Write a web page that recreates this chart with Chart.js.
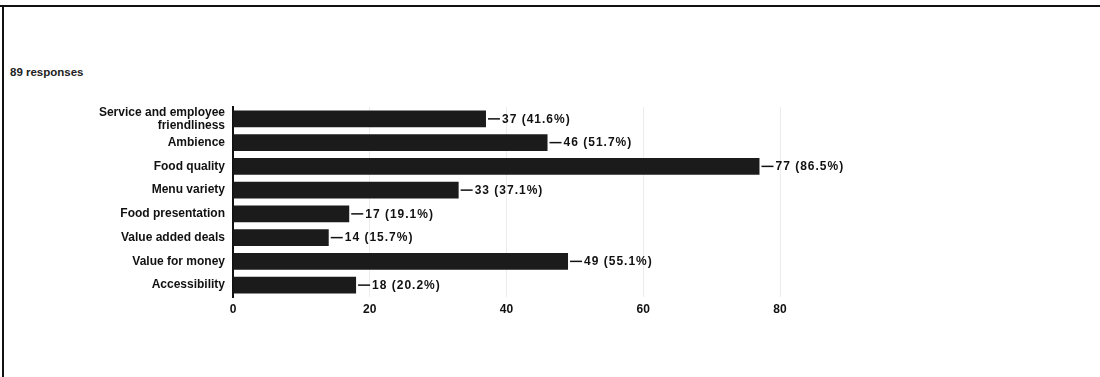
<!DOCTYPE html>
<html>
<head>
<meta charset="utf-8">
<script src="https://cdn.jsdelivr.net/npm/chart.js@4"></script>
<style>
  html, body { margin: 0; padding: 0; background: #fff; }
  #page {
    position: relative;
    width: 1100px; height: 377px;
    overflow: hidden;
    font-family: "Liberation Sans", Arial, sans-serif;
  }
  /* scanned-page frame */
  #frame-top  { position: absolute; left: 0; top: 5px; width: 1100px; height: 2px; background: #111; }
  #frame-left { position: absolute; left: 2px; top: 5px; width: 2px; height: 372px; background: #111; }
  #responses {
    position: absolute; left: 10px; top: 66px;
    font-size: 11.5px; font-weight: bold; color: #222;
  }
  #chart { position: absolute; left: 0; top: 0; }
</style>
</head>
<body>
<div id="page">
  <div id="frame-top"></div>
  <div id="frame-left"></div>
  <div id="responses">89 responses</div>
  <canvas id="chart" width="1100" height="377"></canvas>
</div>

<script>
// ── Data ──────────────────────────────────────────────────────
const categories = [
  ['Service and employee', 'friendliness'],
  'Ambience',
  'Food quality',
  'Menu variety',
  'Food presentation',
  'Value added deals',
  'Value for money',
  'Accessibility'
];
const counts = [37, 46, 77, 33, 17, 14, 49, 18];
const totalResponses = 89;
const xTicks = [0, 20, 40, 60, 80];

const BAR_COLOR = '#1b1b1b';
const FONT = '"Liberation Sans", Arial, sans-serif';

// ── Value labels: "—37 (41.6%)" after each bar ───────────────
const valueLabels = {
  id: 'valueLabels',
  afterDatasetsDraw(chart) {
    const ctx = chart.ctx;
    const meta = chart.getDatasetMeta(0);
    ctx.save();
    ctx.font = 'bold 12px ' + FONT;
    ctx.letterSpacing = '1px';
    ctx.fillStyle = '#111';
    ctx.strokeStyle = '#111';
    ctx.lineWidth = 1.5;
    ctx.textBaseline = 'middle';
    meta.data.forEach(function (bar, i) {
      const v = counts[i];
      const pct = (v / totalResponses * 100).toFixed(1);
      const x = bar.x + 2;
      const y = bar.y;
      ctx.beginPath();
      ctx.moveTo(x, y);
      ctx.lineTo(x + 12, y);
      ctx.stroke();
      ctx.fillText(v + ' (' + pct + '%)', x + 14, y + 0.5);
    });
    ctx.restore();
  }
};

new Chart(document.getElementById('chart'), {
  type: 'bar',
  data: {
    labels: categories,
    datasets: [{
      data: counts,
      backgroundColor: BAR_COLOR,
      borderWidth: 0,
      barPercentage: 0.7,
      categoryPercentage: 1
    }]
  },
  options: {
    indexAxis: 'y',
    responsive: false,
    animation: false,
    layout: { padding: { top: 107, right: 320, bottom: 60, left: 0 } },
    plugins: {
      legend: { display: false },
      tooltip: { enabled: false }
    },
    scales: {
      x: {
        min: 0,
        max: 80,
        afterBuildTicks: function (axis) {
          axis.ticks = xTicks.map(function (v) { return { value: v }; });
        },
        afterFit: function (axis) { axis.height = 20; },
        grid: { color: '#ececec', drawTicks: false },
        border: { display: false },
        ticks: {
          padding: 5,
          color: '#111',
          font: { family: FONT, size: 12, weight: 'bold' }
        }
      },
      y: {
        afterFit: function (axis) { axis.width = 233; },
        grid: { display: false },
        border: { display: true, color: '#111', width: 2 },
        ticks: {
          autoSkip: false,
          padding: 0,
          color: '#111',
          font: { family: FONT, size: 12, weight: 'bold', lineHeight: 1.1 }
        }
      }
    }
  },
  plugins: [valueLabels]
});
</script>
</body>
</html>
